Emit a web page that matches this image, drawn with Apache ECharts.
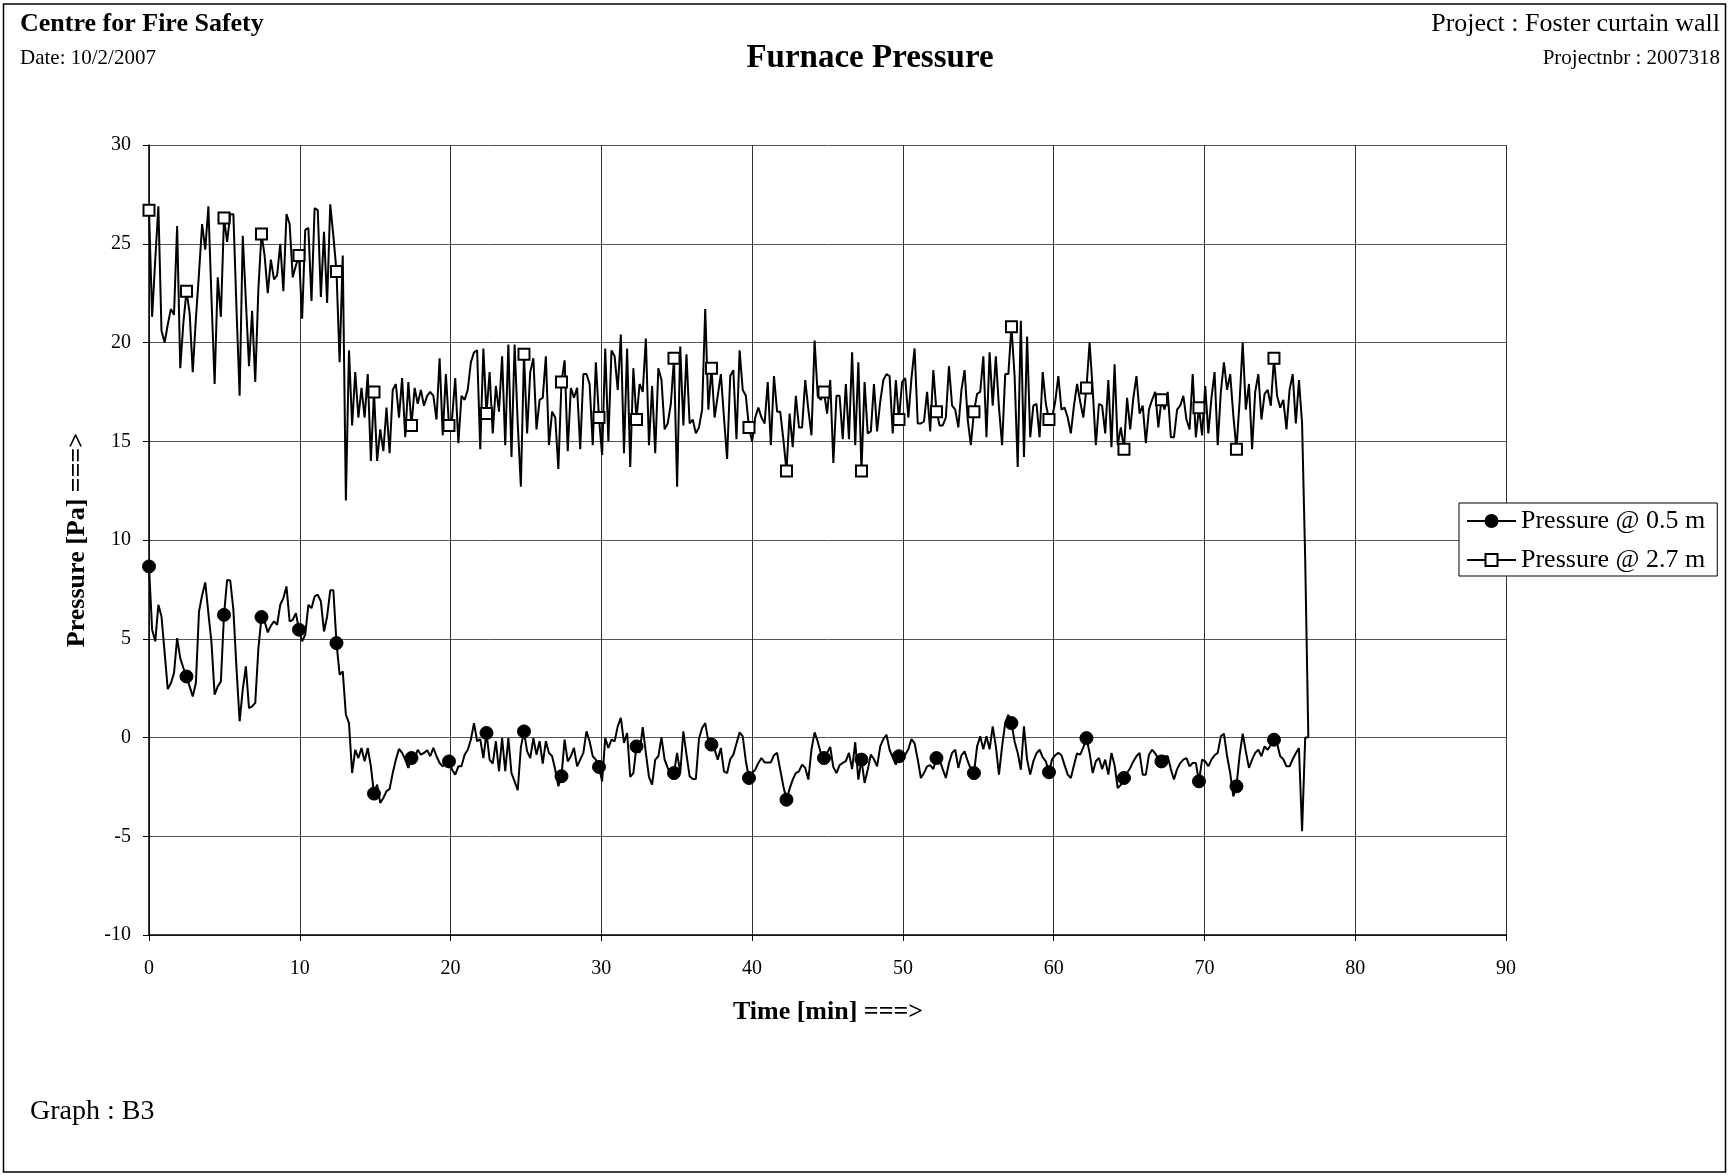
<!DOCTYPE html>
<html>
<head>
<meta charset="utf-8">
<script src="https://cdn.jsdelivr.net/npm/echarts@6/dist/echarts.min.js"></script>
<style>
  html, body { margin: 0; padding: 0; background: #fff; }
  #chart { width: 1731px; height: 1175px; }
</style>
</head>
<body>
<div id="chart"></div>
<script>
// ---- data ----
const TIME_STEP_MIN = 2.487 / 12;   // logging interval [min]
const MARKER_EVERY = 12;            // a marker every 12th record

const seriesNames = ['Pressure @ 0.5 m', 'Pressure @ 2.7 m'];

const pressure05 = [
  8.66, 5.46, 4.87, 6.72, 6.13, 4.3, 2.45, 2.75, 3.26, 5.03, 4.02, 3.52,
  3.09, 2.59, 2.08, 2.76, 6.38, 7.2, 7.85, 6.30, 4.8, 2.17, 2.59, 2.84,
  6.21, 7.98, 7.95, 6.47, 3.5, 0.82, 2.42, 3.60, 1.49, 1.58, 1.75, 4.5,
  6.10, 5.88, 5.32, 5.66, 5.88, 5.71, 6.72, 7.06, 7.65, 5.88, 5.96, 6.30,
  5.46, 4.87, 5.20, 6.72, 6.55, 7.14, 7.23, 6.89, 5.37, 6.13, 7.45, 7.45,
  4.78, 3.18, 3.35, 1.16, 0.73, -1.80, -0.62, -1.04, -0.53, -1.21, -0.53, -1.46,
  -2.84, -2.39, -3.31, -3.06, -2.72, -2.60, -1.80, -1.12, -0.58, -0.78, -1.12, -1.54,
  -1.04, -1.04, -0.62, -0.87, -0.78, -0.65, -0.95, -0.53, -0.95, -1.29, -1.46, -1.3,
  -1.21, -1.63, -1.88, -1.46, -1.46, -0.87, -0.62, -0.11, 0.73, -0.19, -0.08, -1.04,
  0.23, -1.12, -1.32, -0.19, -1.71, -0.03, -1.71, -0.03, -1.80, -2.22, -2.67, -0.5,
  0.31, -0.70, -1.04, -0.03, -0.87, -0.19, -1.32, -0.19, -0.78, -0.95, -1.63, -2.47,
  -1.96, -0.11, -1.21, -0.95, -0.53, -1.46, -1.12, -0.78, 0.31, -0.19, -0.95, -1.12,
  -1.49, -2.22, -0.03, -0.53, -0.11, -0.19, 0.56, 0.99, -0.27, 0.23, -2.0, -1.80,
  -0.45, -0.78, 0.53, -0.78, -2.0, -2.39, -1.12, -0.95, 0.01, -1.12, -1.54, -1.88,
  -1.80, -0.78, -1.80, 0.31, -0.87, -1.96, -2.10, -2.10, -0.05, 0.48, 0.73, -0.2,
  -0.36, -0.6, -1.12, -0.53, -1.71, -1.80, -1.1, -0.87, -0.3, 0.26, 0.06, -1.2,
  -2.05, -1.8, -1.63, -1.29, -1.04, -1.26, -1.26, -1.26, -0.9, -0.78, -1.63, -2.47,
  -3.15, -2.6, -2.13, -1.80, -1.71, -1.37, -1.54, -2.13, -0.6, 0.26, -0.2, -0.8,
  -1.04, -0.78, -0.48, -1.5, -1.80, -1.4, -1.29, -1.2, -0.78, -1.6, -0.24, -2.13,
  -1.12, -2.30, -1.63, -0.87, -1.1, -1.46, -0.45, -0.08, 0.14, -0.62, -1.0, -1.37,
  -0.95, -1.1, -0.87, -0.6, -0.08, -0.3, -1.1, -2.05, -1.8, -1.46, -1.4, -1.6,
  -1.04, -1.12, -1.6, -2.05, -1.3, -0.78, -0.62, -1.54, -0.9, -0.70, -1.2, -1.6,
  -1.80, -0.45, 0.06, -0.6, 0.06, -0.6, 0.56, -0.45, -1.88, -0.45, 0.73, 1.15,
  0.73, -0.2, -0.78, -1.63, 0.56, -1.12, -1.88, -1.2, -0.8, -0.62, -1.0, -1.21,
  -1.76, -1.1, -0.9, -0.78, -0.9, -1.4, -1.88, -2.05, -1.4, -0.8, -0.87, -0.5,
  -0.03, -0.78, -1.80, -1.2, -1.04, -1.6, -1.12, -1.88, -0.78, -1.4, -2.56, -2.4,
  -2.05, -1.8, -1.54, -1.21, -0.95, -0.78, -1.88, -1.88, -0.87, -0.62, -0.8, -1.1,
  -1.21, -0.95, -0.95, -1.6, -2.13, -1.6, -1.3, -1.12, -1.04, -1.46, -1.29, -1.29,
  -2.22, -1.12, -1.21, -1.46, -1.12, -0.9, -0.78, 0.06, 0.19, -0.95, -1.8, -2.98,
  -2.47, -0.9, 0.19, -0.7, -1.54, -1.12, -0.78, -0.62, -0.95, -0.45, -0.62, -0.37,
  -0.11, -0.3, -0.95, -1.1, -1.46, -1.46, -1.1, -0.8, -0.53, -4.75, 0.0, 0.0
];

const pressure27 = [
  26.7, 21.3, 24.2, 26.9, 20.6, 20.0, 20.9, 21.7, 21.4, 25.9, 18.7, 21.0,
  22.6, 21.5, 18.5, 21.2, 23.5, 26.0, 24.7, 26.9, 22.2, 17.9, 23.3, 21.3,
  26.3, 25.1, 26.5, 26.5, 21.7, 17.3, 25.4, 22.1, 18.8, 21.6, 18.0, 22.7,
  25.5, 24.4, 22.5, 24.2, 23.2, 23.4, 25.0, 22.6, 26.5, 26.0, 23.3, 23.9,
  24.4, 21.2, 25.7, 25.8, 22.1, 26.8, 26.7, 22.3, 25.6, 22.0, 27.0, 25.4,
  23.6, 19.0, 24.4, 12.0, 19.6, 15.8, 18.5, 16.2, 17.7, 16.2, 18.4, 14.0,
  17.5, 14.0, 15.6, 14.5, 16.7, 14.4, 17.6, 17.9, 16.2, 18.2, 15.2, 18.0,
  15.8, 17.7, 16.9, 17.6, 16.8, 17.3, 17.5, 17.3, 16.1, 19.2, 15.3, 18.4,
  15.8, 16.2, 18.2, 14.9, 17.3, 17.1, 17.6, 19.0, 19.5, 19.6, 14.6, 19.7,
  16.4, 18.5, 15.4, 17.8, 16.5, 19.3, 14.8, 19.9, 14.2, 19.9, 15.9, 12.7,
  19.4, 15.4, 18.5, 19.2, 15.6, 17.1, 17.2, 19.3, 14.8, 16.5, 16.2, 13.6,
  18.0, 19.1, 14.5, 17.7, 17.2, 17.7, 14.6, 18.4, 18.4, 17.9, 14.8, 19.0,
  16.2, 14.3, 19.7, 15.0, 19.6, 19.3, 17.6, 20.4, 14.4, 19.7, 13.7, 18.7,
  16.1, 17.9, 17.5, 20.2, 14.8, 17.8, 14.4, 18.7, 18.1, 15.6, 15.9, 16.9,
  19.2, 12.7, 19.8, 15.8, 19.4, 15.9, 16.1, 15.4, 15.7, 16.6, 21.7, 16.6,
  18.7, 16.2, 17.3, 18.4, 16.2, 14.1, 18.3, 18.6, 15.1, 19.6, 17.6, 17.3,
  15.7, 15.0, 16.2, 16.7, 16.2, 15.9, 18.0, 14.8, 18.3, 16.5, 16.5, 15.1,
  13.5, 16.4, 14.7, 17.3, 15.7, 15.7, 18.1, 16.6, 15.3, 20.1, 17.3, 17.1,
  17.5, 16.4, 18.1, 13.9, 17.3, 17.3, 15.1, 17.9, 15.1, 19.5, 14.8, 19.0,
  13.5, 18.0, 15.4, 15.5, 17.9, 15.5, 17.0, 18.1, 18.4, 18.3, 15.4, 18.1,
  16.1, 18.0, 18.2, 16.2, 18.2, 19.7, 15.9, 15.9, 16.0, 17.5, 15.5, 18.6,
  16.5, 15.8, 15.8, 16.2, 18.8, 16.8, 16.6, 15.7, 17.6, 18.6, 16.1, 14.8,
  16.5, 17.4, 17.5, 19.3, 15.2, 19.5, 16.8, 19.3, 16.7, 14.8, 18.4, 18.4,
  20.8, 18.3, 13.7, 21.1, 14.2, 20.3, 15.2, 16.8, 16.9, 15.2, 18.5, 16.9,
  16.1, 16.2, 17.0, 18.3, 16.6, 16.7, 16.2, 15.4, 16.8, 17.9, 17.0, 16.2,
  17.7, 20.0, 17.6, 14.8, 16.9, 16.8, 15.4, 18.1, 14.7, 18.9, 14.8, 15.7,
  14.6, 17.2, 15.6, 17.2, 18.3, 16.4, 16.8, 14.9, 16.6, 17.1, 17.5, 15.7,
  17.1, 16.6, 17.5, 15.2, 15.2, 16.6, 16.8, 17.3, 16.1, 15.6, 18.4, 15.2,
  16.7, 15.3, 17.8, 15.4, 17.2, 18.5, 14.8, 17.5, 19.0, 17.6, 18.4, 16.3,
  14.6, 17.0, 20.0, 16.6, 17.9, 14.6, 17.5, 18.4, 16.1, 17.4, 17.6, 16.8,
  19.2, 17.3, 16.7, 17.1, 15.6, 17.6, 18.4, 15.9, 18.1, 15.9, 9.0, 0.0
];

const xTicks = { min: 0, max: 90, interval: 10 };
const yTicks = { min: -10, max: 30, interval: 5 };

// ---- chart ----
const FONT = '"Liberation Serif", "Times New Roman", serif';

function buildData(values) {
  return values.map((v, i) => {
    const t = +(i * TIME_STEP_MIN).toFixed(4);
    return i % MARKER_EVERY === 0 ? { value: [t, v] } : { value: [t, v], symbol: 'none' };
  });
}

const chart = echarts.init(document.getElementById('chart'), null, { renderer: 'canvas' });

const option = {
  animation: false,
  backgroundColor: '#fff',
  grid: { left: 149, top: 145, width: 1357, height: 790, containLabel: false },
  xAxis: {
    type: 'value', min: xTicks.min, max: xTicks.max, interval: xTicks.interval,
    axisLine: { show: true, onZero: false, lineStyle: { color: '#000', width: 1.5 } },
    axisTick: { show: true, inside: false, length: 6, lineStyle: { color: '#000', width: 1 } },
    axisLabel: { color: '#000', fontFamily: FONT, fontSize: 20, margin: 24 },
    splitLine: { show: true, lineStyle: { color: '#333', width: 1 } }
  },
  yAxis: {
    type: 'value', min: yTicks.min, max: yTicks.max, interval: yTicks.interval,
    axisLine: { show: true, onZero: false, lineStyle: { color: '#000', width: 1.5 } },
    axisTick: { show: true, inside: false, length: 6, lineStyle: { color: '#000', width: 1 } },
    axisLabel: { color: '#000', fontFamily: FONT, fontSize: 20, margin: 18 },
    splitLine: { show: true, lineStyle: { color: '#555', width: 1 } }
  },
  legend: {
    orient: 'vertical',
    left: 1459, top: 503,
    data: seriesNames,
    itemWidth: 49, itemHeight: 15, itemGap: 13,
    padding: [5, 12, 3, 7],
    borderColor: '#000', borderWidth: 1, backgroundColor: '#fff',
    textStyle: { color: '#000', fontFamily: FONT, fontSize: 26 },
    selectedMode: false
  },
  series: [
    {
      name: seriesNames[0], type: 'line',
      data: buildData(pressure05),
      symbol: 'circle', symbolSize: 13, showAllSymbol: true,
      lineStyle: { color: '#000', width: 2 },
      itemStyle: { color: '#000', borderColor: '#000', borderWidth: 1 },
      silent: true, z: 3
    },
    {
      name: seriesNames[1], type: 'line',
      data: buildData(pressure27),
      symbol: 'rect', symbolSize: 11, showAllSymbol: true,
      lineStyle: { color: '#000', width: 2 },
      itemStyle: { color: '#fff', borderColor: '#000', borderWidth: 2 },
      silent: true, z: 3
    }
  ],
  graphic: [
    { type: 'rect', silent: true, z: -10,
      shape: { x: 3.5, y: 4, width: 1722, height: 1168 },
      style: { fill: 'none', stroke: '#000', lineWidth: 1.5 } },
    { type: 'text', x: 20, y: 24, silent: true,
      style: { text: 'Centre for Fire Safety', font: 'bold 26px ' + FONT, fill: '#000', textAlign: 'left', textVerticalAlign: 'middle' } },
    { type: 'text', x: 20, y: 58, silent: true,
      style: { text: 'Date: 10/2/2007', font: '21px ' + FONT, fill: '#000', textAlign: 'left', textVerticalAlign: 'middle' } },
    { type: 'text', x: 870, y: 58, silent: true,
      style: { text: 'Furnace Pressure', font: 'bold 33px ' + FONT, fill: '#000', textAlign: 'center', textVerticalAlign: 'middle' } },
    { type: 'text', x: 1720, y: 24, silent: true,
      style: { text: 'Project : Foster curtain wall', font: '26px ' + FONT, fill: '#000', textAlign: 'right', textVerticalAlign: 'middle' } },
    { type: 'text', x: 1720, y: 58, silent: true,
      style: { text: 'Projectnbr : 2007318', font: '21px ' + FONT, fill: '#000', textAlign: 'right', textVerticalAlign: 'middle' } },
    { type: 'text', x: 828, y: 1012, silent: true,
      style: { text: 'Time [min] ===>', font: 'bold 26px ' + FONT, fill: '#000', textAlign: 'center', textVerticalAlign: 'middle' } },
    { type: 'text', x: 77, y: 540, rotation: Math.PI / 2, silent: true,
      style: { text: 'Pressure [Pa] ===>', font: 'bold 26px ' + FONT, fill: '#000', textAlign: 'center', textVerticalAlign: 'middle' } },
    { type: 'text', x: 30, y: 1112, silent: true,
      style: { text: 'Graph : B3', font: '28px ' + FONT, fill: '#000', textAlign: 'left', textVerticalAlign: 'middle' } }
  ]
};

chart.setOption(option);
</script>
</body>
</html>
